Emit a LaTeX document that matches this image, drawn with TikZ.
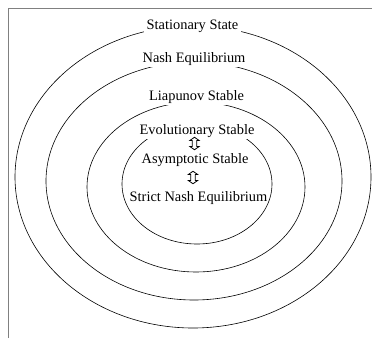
\documentclass[tikz,border=0pt]{standalone}
\usepackage{fontspec}
\setmainfont{Liberation Serif}
\usetikzlibrary{shapes.arrows}
\definecolor{cadre}{RGB}{128,128,128}
\tikzset{
  etiquette/.style={font=\fontsize{14.4}{17}\selectfont, anchor=base, inner xsep=3pt, inner ysep=2pt},
  masque/.style={etiquette, fill=white},
  equiv/.style={draw, double arrow, rotate=90, inner sep=1.8pt, minimum height=12.5pt,
    double arrow head extend=2.4pt, double arrow tip angle=110, line width=0.8pt},
}
\begin{document}
\begin{tikzpicture}[x=1pt,y=-1pt]
\useasboundingbox (0,0) rectangle (372,338);
% Cadre gris
\draw[cadre, line width=1pt] (8,338) -- (8,8) -- (372,8);
% Ellipses : centre / demi-axes
\foreach \cx/\cy/\ra/\rb in {193/177/178/151, 194/181/148/119, 196/187/109/85, 197/184/75/60} {
\draw[line width=0.6pt] (\cx,\cy) ellipse [x radius=\ra, y radius=\rb];
}
% Etiquettes des ensembles
\node[masque] (stat) at (192.5,29) {Stationary State};
\node[masque, inner xsep=0pt] (nash) at (194,62) {Nash Equilibrium};
\node[masque, inner xsep=5pt] (liap) at (196.5,100) {Liapunov Stable};
\node[masque] (evol) at (197,134) {Evolutionary Stable};
\node[etiquette] (asym) at (195,163) {Asymptotic Stable};
\node[etiquette, inner xsep=0pt] (strict) at (198.5,201) {Strict Nash Equilibrium};
% Equivalences
\node[equiv] (eq1) at (194.5,143.5) {};
\node[equiv] (eq2) at (193,177.5) {};
\end{tikzpicture}
\end{document}
